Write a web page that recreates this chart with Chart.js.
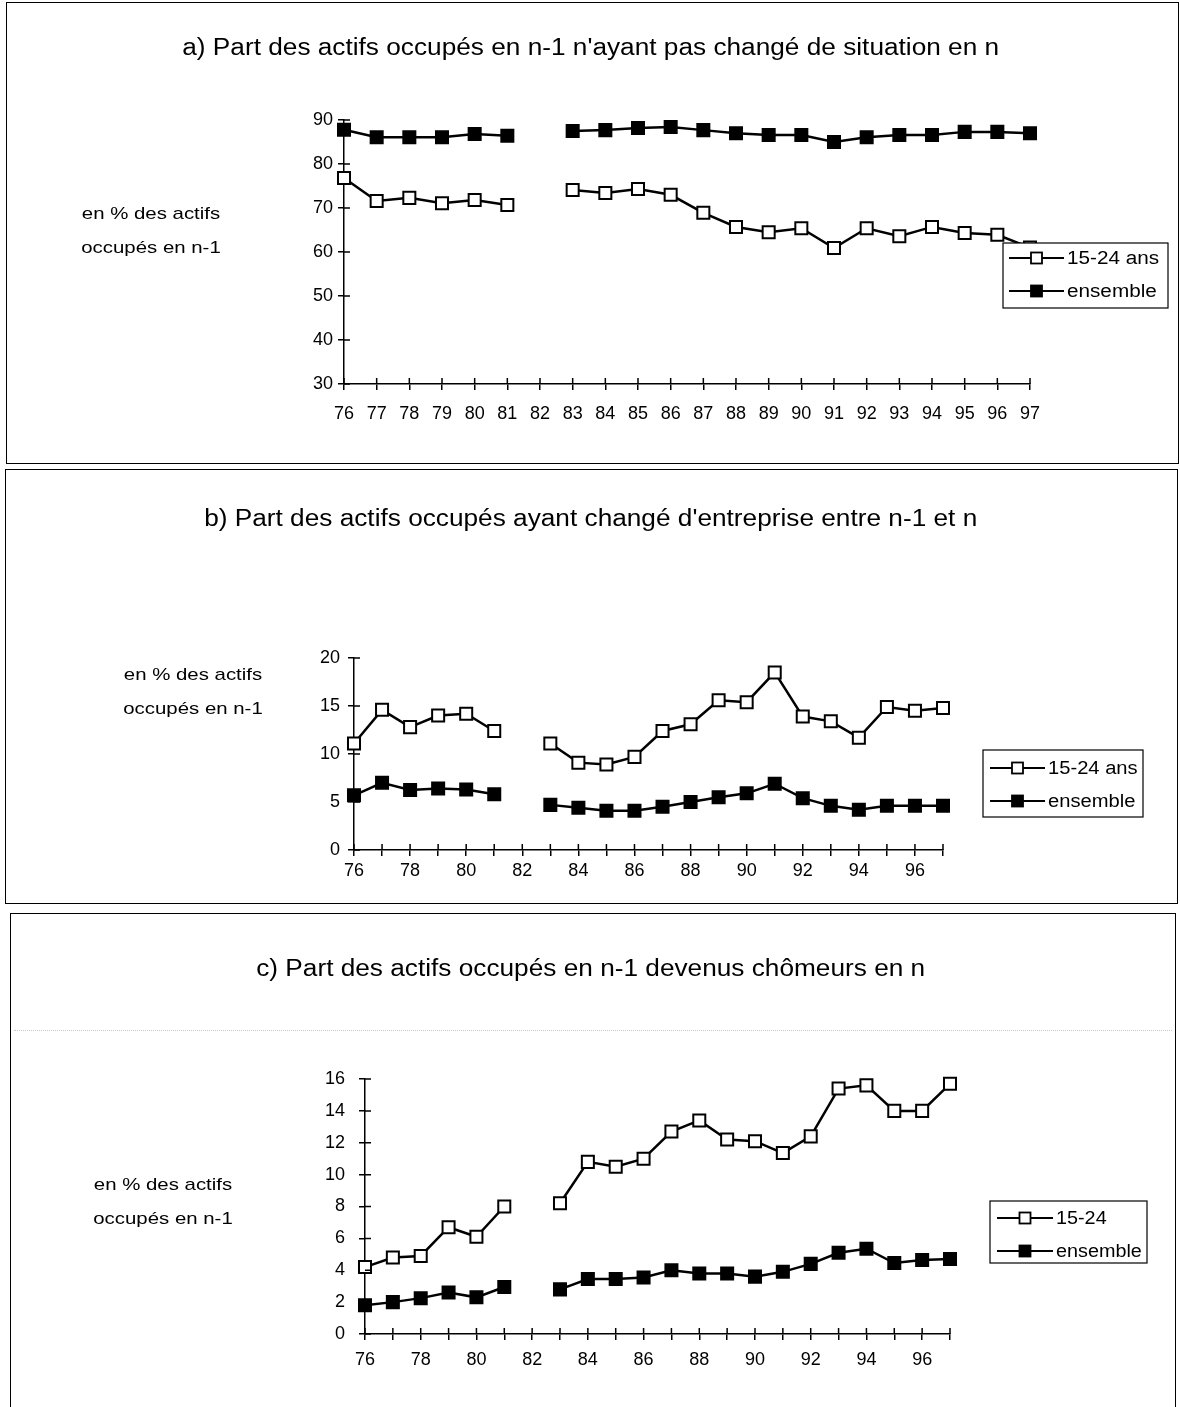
<!DOCTYPE html>
<html><head><meta charset="utf-8">
<script src="https://cdn.jsdelivr.net/npm/chart.js@4/dist/chart.umd.min.js"></script>
<style>
body{margin:0;background:#fff;width:1180px;height:1407px;position:relative;overflow:hidden;font-family:"Liberation Sans",Arial,sans-serif;color:#000;}
.panel{position:absolute;border:1.5px solid #000;box-sizing:border-box;}
.title{position:absolute;left:0;width:1180px;text-align:center;font-size:23px;white-space:nowrap;line-height:26px;transform:scaleX(1.14);transform-origin:585px 0;}
.side{position:absolute;font-size:17px;text-align:center;line-height:34px;white-space:nowrap;transform:scaleX(1.2);}
canvas{position:absolute;}
.dots{position:absolute;left:14px;width:1158px;top:1030px;border-top:1px dotted #c8c8c8;}
</style></head><body>
<div class="panel" style="left:6px;top:2px;width:1173px;height:462px;"></div>
<div class="panel" style="left:5px;top:469px;width:1173px;height:435px;"></div>
<div class="panel" style="left:10px;top:913px;width:1166px;height:500px;"></div>
<div class="dots"></div>
<canvas id="ca"></canvas>
<canvas id="cb"></canvas>
<canvas id="cc"></canvas>
<div class="title" style="top:34px;">a) Part des actifs occupés en n-1 n'ayant pas changé de situation en n</div>
<div class="title" style="top:505px;">b) Part des actifs occupés ayant changé d'entreprise entre n-1 et n</div>
<div class="title" style="top:955px;">c) Part des actifs occupés en n-1 devenus chômeurs en n</div>
<div class="side" style="left:71px;width:160px;top:197px;">en % des actifs<br>occupés en n-1</div>
<div class="side" style="left:113px;width:160px;top:658px;">en % des actifs<br>occupés en n-1</div>
<div class="side" style="left:83px;width:160px;top:1168px;">en % des actifs<br>occupés en n-1</div>
<script>
// ---- data ----
const years = ['76','77','78','79','80','81','82','83','84','85','86','87','88','89','90','91','92','93','94','95','96','97'];
const legendA = ['15-24 ans', 'ensemble'];
const legendB = ['15-24 ans', 'ensemble'];
const legendC = ['15-24', 'ensemble'];
const a_jeunes   = [76.8,71.6,72.3,71.1,71.8,70.7,null,74.1,73.4,74.3,73.0,68.9,65.7,64.5,65.4,60.9,65.4,63.6,65.7,64.3,63.9,61.0];
const a_ensemble = [87.8,86.1,86.1,86.1,86.8,86.4,null,87.5,87.7,88.2,88.4,87.7,87.0,86.6,86.6,85.0,86.1,86.6,86.6,87.3,87.3,87.0];
const b_jeunes   = [11.1,14.6,12.8,14.0,14.2,12.4,null,11.1,9.1,8.9,9.7,12.4,13.1,15.6,15.4,18.5,13.9,13.4,11.7,14.9,14.5,14.8];
const b_ensemble = [5.7,7.0,6.25,6.4,6.3,5.8,null,4.7,4.4,4.1,4.1,4.5,5.0,5.5,5.9,6.9,5.4,4.6,4.2,4.6,4.6,4.6];
const c_jeunes   = [4.2,4.8,4.9,6.7,6.1,8.0,null,8.2,10.8,10.5,11.0,12.7,13.4,12.2,12.1,11.35,12.4,15.4,15.6,14.0,14.0,15.7];
const c_ensemble = [1.8,2.0,2.25,2.6,2.3,2.95,null,2.8,3.45,3.45,3.55,4.0,3.8,3.8,3.6,3.9,4.4,5.1,5.35,4.45,4.65,4.7];
const yA = {min:30, max:90, step:10};
const yB = {min:0, max:20, step:5};
const yC = {min:0, max:16, step:2};

const FONT = '"Liberation Sans", Arial, sans-serif';

// cross ticks (inner half) plugin
const crossTicks = {
  id:'crossTicks',
  afterDraw(chart){
    const ctx = chart.ctx, ca = chart.chartArea;
    const xs = chart.scales.x, ys = chart.scales.y;
    ctx.save();
    ctx.strokeStyle = '#000'; ctx.lineWidth = 1.5;
    ctx.beginPath();
    xs.ticks.forEach((t,i)=>{ const px = xs.getPixelForTick(i); ctx.moveTo(px, ca.bottom); ctx.lineTo(px, ca.bottom-6); });
    ys.ticks.forEach((t,i)=>{ const py = ys.getPixelForTick(i); ctx.moveTo(ca.left, py); ctx.lineTo(ca.left+6, py); });
    ctx.stroke();
    ctx.restore();
  }
};

// boxed legend drawn on top of the lines
const boxLegend = {
  id:'boxLegend',
  afterDatasetsDraw(chart, args, opts){
    const ctx = chart.ctx;
    const o = opts;
    ctx.save();
    ctx.fillStyle = '#fff';
    ctx.fillRect(o.x, o.y, o.w, o.h);
    ctx.strokeStyle = '#000'; ctx.lineWidth = 1.2;
    ctx.strokeRect(o.x, o.y, o.w, o.h);
    chart.data.datasets.forEach((ds, i)=>{
      const cy = o.rows[i];
      ctx.strokeStyle = '#000'; ctx.lineWidth = 2;
      ctx.beginPath(); ctx.moveTo(o.lx0, cy); ctx.lineTo(o.lx1, cy); ctx.stroke();
      const mx = (o.lx0+o.lx1)/2, s = 11;
      ctx.fillStyle = ds.pointBackgroundColor;
      ctx.fillRect(mx-s/2, cy-s/2, s, s);
      ctx.lineWidth = 1.8;
      ctx.strokeRect(mx-s/2, cy-s/2, s, s);
      ctx.fillStyle = '#000';
      ctx.font = o.fontSize + 'px ' + FONT;
      ctx.textBaseline = 'middle'; ctx.textAlign = 'left';
      ctx.save();
      ctx.translate(o.lx1+3, cy+1);
      ctx.scale(o.sx, 1);
      ctx.fillText(ds.label, 0, 0);
      ctx.restore();
    });
    ctx.restore();
  }
};

function ds(label, data, filled){
  return {label, data, borderColor:'#000', borderWidth:2.5, clip:false,
    pointStyle:'rect', pointRadius:8.5, pointHoverRadius:8.5,
    pointBackgroundColor: filled ? '#000' : '#fff', pointBorderColor:'#000', pointBorderWidth:2,
    spanGaps:false, tension:0};
}

function make(id, canvasBox, area, yr, labels, s1, s2, showAll, lab, xPad, yPad, leg){
  const cv = document.getElementById(id);
  cv.style.left = canvasBox.l+'px'; cv.style.top = canvasBox.t+'px';
  cv.style.width = canvasBox.w+'px'; cv.style.height = canvasBox.h+'px';
  cv.width = canvasBox.w; cv.height = canvasBox.h;
  const YW = 60, XH = 40;
  const pad = {
    left: area.l - canvasBox.l - YW,
    right: canvasBox.l + canvasBox.w - area.r,
    top: area.t - canvasBox.t,
    bottom: canvasBox.t + canvasBox.h - area.b - XH
  };
  const legOpts = {
    x: leg.x - canvasBox.l, y: leg.y - canvasBox.t, w: leg.w, h: leg.h,
    lx0: leg.lx0 - canvasBox.l, lx1: leg.lx1 - canvasBox.l,
    rows: leg.rows.map(r=>r - canvasBox.t), fontSize: leg.fs, sx: leg.sx
  };
  return new Chart(cv, {
    type:'line',
    data:{ labels: labels, datasets:[ ds(lab[0], s1, false), ds(lab[1], s2, true) ] },
    options:{
      responsive:false, animation:false, devicePixelRatio:1,
      layout:{ padding: pad },
      plugins:{ legend:{display:false}, tooltip:{enabled:false}, title:{display:false}, boxLegend: legOpts },
      scales:{
        x:{ type:'category', offset:false,
          afterFit(s){ s.height = XH; },
          grid:{ display:true, drawOnChartArea:false, drawTicks:true, tickLength:6, color:'#000', lineWidth:1.5 },
          border:{ display:true, color:'#000', width:1.5 },
          ticks:{ autoSkip:false, maxRotation:0, color:'#000', padding:xPad, font:{family:FONT, size:18},
            callback(v, i){ const l = this.getLabelForValue(v); return (showAll || i % 2 === 0) ? l : ''; } }
        },
        y:{ min: yr.min, max: yr.max,
          afterFit(s){ s.width = YW; },
          grid:{ display:true, drawOnChartArea:false, drawTicks:true, tickLength:6, color:'#000', lineWidth:1.5 },
          border:{ display:true, color:'#000', width:1.5 },
          ticks:{ stepSize: yr.step, color:'#000', padding:yPad, font:{family:FONT, size:18} }
        }
      }
    },
    plugins:[crossTicks, boxLegend]
  });
}

make('ca', {l:8,t:4,w:1168,h:456}, {l:344,r:1030,t:120,b:384}, yA, years, a_jeunes, a_ensemble, true, legendA, 13, 5,
  {x:1003,y:243,w:165,h:65,lx0:1009,lx1:1064,rows:[258,291],fs:18,sx:1.15});
make('cb', {l:7,t:471,w:1168,h:430}, {l:354,r:943,t:658,b:850}, yB, years, b_jeunes, b_ensemble, false, legendB, 4, 8,
  {x:983,y:750,w:160,h:67,lx0:990,lx1:1045,rows:[768,801],fs:18,sx:1.12});
make('cc', {l:12,t:915,w:1162,h:490}, {l:365,r:950,t:1079,b:1334}, yC, years, c_jeunes, c_ensemble, false, legendC, 9, 14,
  {x:990,y:1201,w:157,h:62,lx0:997,lx1:1053,rows:[1218,1251],fs:18,sx:1.1});
</script>
</body></html>
